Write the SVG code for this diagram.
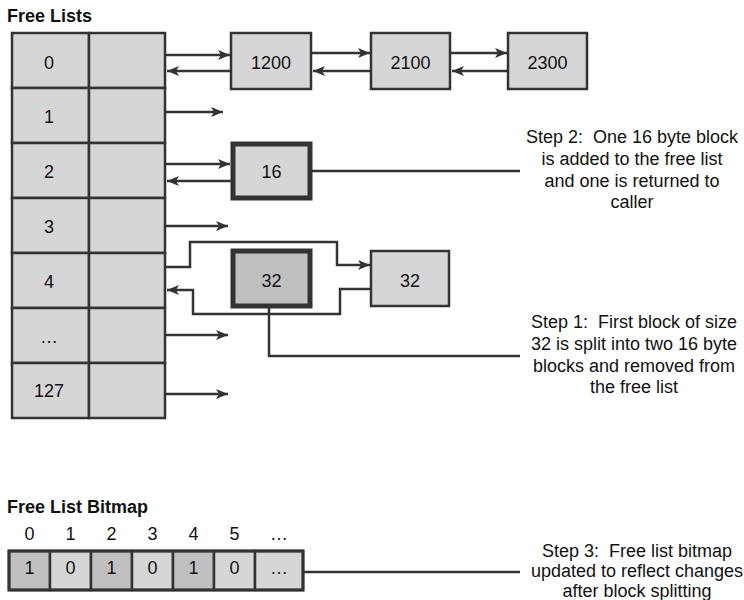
<svg xmlns="http://www.w3.org/2000/svg" width="744" height="600" viewBox="0 0 744 600">
<defs>
<marker id="ah" viewBox="0 0 12 10" refX="12" refY="5" markerWidth="12" markerHeight="10" markerUnits="userSpaceOnUse" orient="auto">
<path d="M0,0 L12,5 L0,10 L3,5 z" fill="#333"/>
</marker>
<style>
text{font-family:"Liberation Sans",Arial,sans-serif;fill:#111;font-size:18px}
.title{font-weight:bold;font-size:18px}
.c{text-anchor:middle}
.cell{fill:#d6d6d6;stroke:#333;stroke-width:2.5}
.dark{fill:#c0c0c0;stroke:#333;stroke-width:2.5}
.thick{fill:#d6d6d6;stroke:#333;stroke-width:5}
.thickd{fill:#c0c0c0;stroke:#333;stroke-width:5}
.ln{stroke:#333;stroke-width:2.5;fill:none}
.ar{stroke:#333;stroke-width:2.5;fill:none;marker-end:url(#ah)}
.note{text-anchor:middle;font-size:18px;white-space:pre}
</style>
</defs>
<rect width="744" height="600" fill="#fff"/>
<text class="title" x="7" y="22">Free Lists</text>
<g id="freelist-table">
<rect class="cell" x="12" y="33" width="77" height="55"/><rect class="cell" x="89" y="33" width="76" height="55"/>
<rect class="cell" x="12" y="88" width="77" height="55"/><rect class="cell" x="89" y="88" width="76" height="55"/>
<rect class="cell" x="12" y="143" width="77" height="55"/><rect class="cell" x="89" y="143" width="76" height="55"/>
<rect class="cell" x="12" y="198" width="77" height="55"/><rect class="cell" x="89" y="198" width="76" height="55"/>
<rect class="cell" x="12" y="253" width="77" height="55"/><rect class="cell" x="89" y="253" width="76" height="55"/>
<rect class="cell" x="12" y="308" width="77" height="55"/><rect class="cell" x="89" y="308" width="76" height="55"/>
<rect class="cell" x="12" y="363" width="77" height="55"/><rect class="cell" x="89" y="363" width="76" height="55"/>
<text class="c" x="49" y="69">0</text>
<text class="c" x="49" y="123">1</text>
<text class="c" x="49" y="178">2</text>
<text class="c" x="49" y="233">3</text>
<text class="c" x="49" y="288">4</text>
<text class="c" x="49" y="343">…</text>
<text class="c" x="49" y="397">127</text>
</g>
<g id="n1200"><rect class="cell" x="231" y="33" width="80" height="56"/><text class="c" x="271" y="69">1200</text></g>
<g id="n2100"><rect class="cell" x="371" y="33" width="79" height="56"/><text class="c" x="410.5" y="69">2100</text></g>
<g id="n2300"><rect class="cell" x="508" y="33" width="79" height="56"/><text class="c" x="547.5" y="69">2300</text></g>
<g id="n16"><rect class="thick" x="233" y="144" width="77" height="54"/><text class="c" x="271.5" y="178">16</text></g>
<g id="n32a"><rect class="thickd" x="233" y="251" width="77" height="55"/><text class="c" x="271.5" y="287">32</text></g>
<g id="n32b"><rect class="cell" x="371" y="251" width="78" height="55"/><text class="c" x="410" y="287">32</text></g>
<g id="step2"><text class="note" x="632" y="143" xml:space="preserve">Step 2:  One 16 byte block</text><text class="note" x="632" y="165">is added to the free list</text><text class="note" x="632" y="187">and one is returned to</text><text class="note" x="632" y="208">caller</text></g>
<g id="step1"><text class="note" x="634" y="328" xml:space="preserve">Step 1:  First block of size</text><text class="note" x="634" y="350">32 is split into two 16 byte</text><text class="note" x="634" y="372">blocks and removed from</text><text class="note" x="634" y="393">the free list</text></g>
<g id="step3"><text class="note" x="637" y="557" xml:space="preserve">Step 3:  Free list bitmap</text><text class="note" x="637" y="577">updated to reflect changes</text><text class="note" x="637" y="597">after block splitting</text></g>
<text class="title" x="7" y="513">Free List Bitmap</text>
<g id="bitmap">
<rect class="dark" x="9" y="551" width="41" height="39"/>
<rect class="cell" x="50" y="551" width="41" height="39"/>
<rect class="dark" x="91" y="551" width="41" height="39"/>
<rect class="cell" x="132" y="551" width="41" height="39"/>
<rect class="dark" x="173" y="551" width="41" height="39"/>
<rect class="cell" x="214" y="551" width="41" height="39"/>
<rect class="cell" x="255" y="551" width="48" height="39"/>
<rect x="9" y="551" width="294" height="39" fill="none" stroke="#333" stroke-width="3"/>
<text class="c" x="29.5" y="574">1</text><text class="c" x="70.5" y="574">0</text><text class="c" x="111.5" y="574">1</text><text class="c" x="152.5" y="574">0</text><text class="c" x="193.5" y="574">1</text><text class="c" x="234.5" y="574">0</text><text class="c" x="279" y="574">…</text>
<text class="c" x="29.5" y="540">0</text><text class="c" x="70.5" y="540">1</text><text class="c" x="111.5" y="540">2</text><text class="c" x="152.5" y="540">3</text><text class="c" x="193.5" y="540">4</text><text class="c" x="234.5" y="540">5</text><text class="c" x="279" y="540">…</text>
</g>
<g id="connectors">
<line class="ar" x1="165" y1="55" x2="230" y2="55"/>
<line class="ar" x1="231" y1="71" x2="167" y2="71"/>
<line class="ar" x1="311" y1="53" x2="370" y2="53"/>
<line class="ar" x1="371" y1="71" x2="313" y2="71"/>
<line class="ar" x1="450" y1="53" x2="507" y2="53"/>
<line class="ar" x1="508" y1="71" x2="452" y2="71"/>
<line class="ar" x1="165" y1="112" x2="223" y2="112"/>
<line class="ar" x1="165" y1="164" x2="230" y2="164"/>
<line class="ar" x1="231" y1="181" x2="167" y2="181"/>
<line class="ln" x1="312" y1="171" x2="520" y2="171"/>
<line class="ar" x1="165" y1="226" x2="228" y2="226"/>
<polyline class="ar" points="165,267 190,267 190,242 337,242 337,265 370,265"/>
<polyline class="ar" points="371,289 340,289 340,314 193,314 193,290 167,290"/>
<polyline class="ln" points="269,308 269,356 520,356"/>
<line class="ar" x1="165" y1="335" x2="228" y2="335"/>
<line class="ar" x1="165" y1="394" x2="228" y2="394"/>
<line class="ln" x1="303" y1="572" x2="520" y2="572"/>
</g>
</svg>
